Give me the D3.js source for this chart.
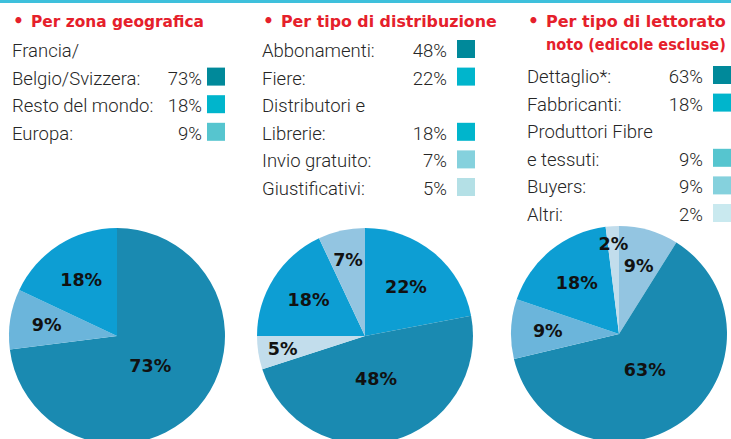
<!DOCTYPE html>
<html>
<head>
<meta charset="utf-8">
<script src="https://cdn.jsdelivr.net/npm/d3@7"></script>
<style>
  body { margin: 0; background: #fff; }
  svg { display: block; }
</style>
</head>
<body>
<svg id="chart" width="731" height="439"></svg>
<script>
// data, legend order (as in the printed legend)
const zonaTitle = ["Per zona geografica"]
const zonaLabels = ["Francia/\nBelgio/Svizzera:", "Resto del mondo:", "Europa:"]
const zonaValues = [73, 18, 9]
const zonaPieOrder = [0, 2, 1]   // clockwise from 12 o'clock

const distTitle = ["Per tipo di distribuzione"]
const distLabels = ["Abbonamenti:", "Fiere:", "Distributori e\nLibrerie:", "Invio gratuito:", "Giustificativi:"]
const distValues = [48, 22, 18, 7, 5]
const distPieOrder = [1, 0, 4, 2, 3]

const lettTitle = ["Per tipo di lettorato", "noto (edicole escluse)"]
const lettLabels = ["Dettaglio*:", "Fabbricanti:", "Produttori Fibre\ne tessuti:", "Buyers:", "Altri:"]
const lettValues = [63, 18, 9, 9, 2]
const lettPieOrder = [3, 0, 2, 1, 4]

// colours
const red = "#e5202b"
const pieDark = "#1a8ab1", pieBright = "#0d9ed3", pieMid = "#6bb5db", pieLight = "#93c5e1", piePale = "#c2ddec"
const swDark = "#00899a", swCyan = "#00b5cc", swMid = "#56c5cf", swLight = "#85d1dd", swPale = "#b4e0e6", swPale2 = "#c9e9ef"

const panels = [
  {title: zonaTitle, labels: zonaLabels, values: zonaValues, order: zonaPieOrder,
   sw: [swDark, swCyan, swMid], pie: [pieDark, pieBright, pieMid],
   x: 12, titleW: [173], pctX: 202, swX: 207, firstBase: 57, cx: 117, cy: 336},
  {title: distTitle, labels: distLabels, values: distValues, order: distPieOrder,
   sw: [swDark, swCyan, swCyan, swLight, swPale], pie: [pieDark, pieBright, pieBright, pieLight, piePale],
   x: 262, titleW: [216], pctX: 447, swX: 457, firstBase: 57, cx: 365, cy: 336},
  {title: lettTitle, labels: lettLabels, values: lettValues, order: lettPieOrder,
   sw: [swDark, swCyan, swMid, swLight, swPale2], pie: [pieDark, pieBright, pieMid, pieLight, piePale],
   x: 527, titleW: [180, 180], pctX: 703, swX: 713, firstBase: 83, cx: 619, cy: 334}
]

const svg = d3.select("#chart")
const rowH = 27.6, radius = 108

// thin cyan rule on top
svg.append("rect").attr("x", 0).attr("y", 0).attr("width", 731).attr("height", 3).attr("fill", "#3ec0dc")

// label distance from centre, big slices sit closer in
const labelR = d3.scaleLinear().domain([2, 6, 9, 20, 45]).range([0.84, 0.75, 0.66, 0.61, 0.41]).clamp(true)

panels.forEach(p => {
  const g = svg.append("g")

  // title (squeezed horizontally to the printed width)
  g.append("text")
    .attr("x", p.x + 1).attr("y", 27)
    .attr("fill", red).attr("font-family", "DejaVu Sans").attr("font-weight", "bold")
    .attr("font-size", 17).text("\u2022")
  p.title.forEach((t, i) => {
    const tt = g.append("text")
      .attr("fill", red).attr("font-family", "DejaVu Sans").attr("font-weight", "bold")
      .attr("font-size", 16.5)
      .text(t)
    const sx = p.titleW[i] / tt.node().getComputedTextLength()
    tt.attr("transform", `translate(${p.x + 19},${27 + i * 23}) scale(${sx},1)`)
  })

  // legend rows
  let line = 0
  p.labels.forEach((lab, i) => {
    const parts = lab.split("\n")
    parts.forEach(s => {
      g.append("text")
        .attr("x", p.x).attr("y", p.firstBase + line * rowH)
        .attr("fill", "#262626").attr("font-family", "Roboto").attr("font-weight", 300)
        .attr("font-size", 18.5).text(s)
      line++
    })
    const base = p.firstBase + (line - 1) * rowH
    g.append("text")
      .attr("x", p.pctX).attr("y", base).attr("text-anchor", "end")
      .attr("fill", "#262626").attr("font-family", "Roboto").attr("font-weight", 300)
      .attr("font-size", 18.5).text(p.values[i] + "%")
    g.append("rect")
      .attr("x", p.swX).attr("y", base - 17).attr("width", 18).attr("height", 18)
      .attr("fill", p.sw[i])
  })

  // pie
  const slices = p.order.map(k => ({value: p.values[k], color: p.pie[k]}))
  const arcs = d3.pie().sort(null).value(d => d.value)(slices)
  const arc = d3.arc().innerRadius(0).outerRadius(radius)
  const pg = g.append("g").attr("transform", `translate(${p.cx},${p.cy})`)

  pg.selectAll("path")
    .data(arcs)
    .enter().append("path")
    .attr("d", arc)
    .attr("fill", d => d.data.color)

  pg.selectAll("text")
    .data(arcs)
    .enter().append("text")
    .attr("transform", d => {
      const r = radius * labelR(d.data.value)
      const c = d3.arc().innerRadius(r).outerRadius(r).centroid(d)
      return `translate(${c[0]},${c[1]})`
    })
    .attr("text-anchor", "middle").attr("dy", "0.36em")
    .attr("font-family", "DejaVu Sans").attr("font-weight", "bold").attr("font-size", 17.5)
    .attr("fill", "#111")
    .text(d => d.data.value + "%")
})
</script>
</body>
</html>
